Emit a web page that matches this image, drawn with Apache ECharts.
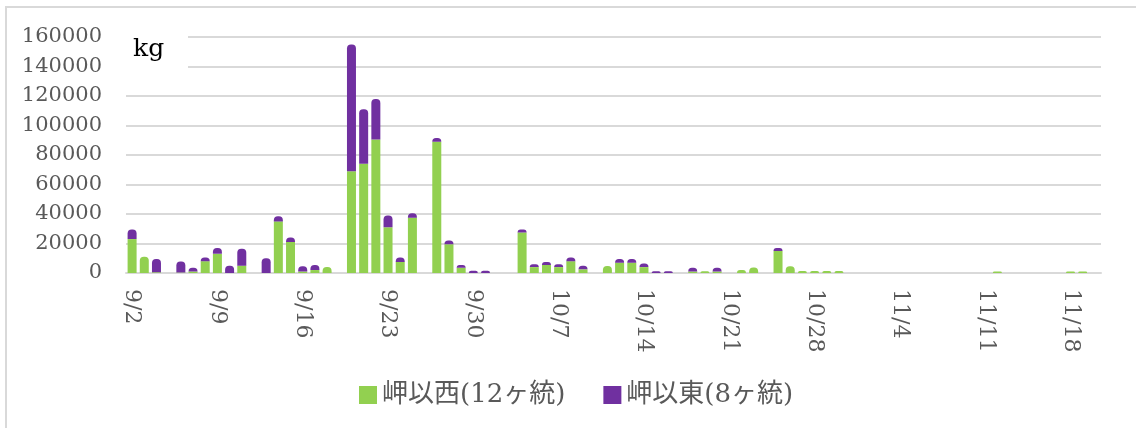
<!DOCTYPE html>
<html>
<head>
    <meta charset="utf-8" />
    <title>漁獲量</title>
    <script src="https://cdn.jsdelivr.net/npm/echarts@6/dist/echarts.min.js"></script>
    <style type="text/css">
        html, body { margin: 0; padding: 0; background: #fff; }
        #chart { width: 1136px; height: 428px; }
    </style>
</head>
<body>
    <div id="chart"></div>
    <script>
        // 日付（9/2 ～ 11/20）
        var dates = [
            '9/2', '9/3', '9/4', '9/5', '9/6', '9/7', '9/8', '9/9', '9/10', '9/11',
            '9/12', '9/13', '9/14', '9/15', '9/16', '9/17', '9/18', '9/19', '9/20', '9/21',
            '9/22', '9/23', '9/24', '9/25', '9/26', '9/27', '9/28', '9/29', '9/30', '10/1',
            '10/2', '10/3', '10/4', '10/5', '10/6', '10/7', '10/8', '10/9', '10/10', '10/11',
            '10/12', '10/13', '10/14', '10/15', '10/16', '10/17', '10/18', '10/19', '10/20', '10/21',
            '10/22', '10/23', '10/24', '10/25', '10/26', '10/27', '10/28', '10/29', '10/30', '10/31',
            '11/1', '11/2', '11/3', '11/4', '11/5', '11/6', '11/7', '11/8', '11/9', '11/10',
            '11/11', '11/12', '11/13', '11/14', '11/15', '11/16', '11/17', '11/18', '11/19', '11/20'
        ];

        // 岬以西(12ヶ統)
        var westValues = [
            23000, 11000, 500, 0, 300, 1000, 8000, 13000, 0, 5000,
            0, 0, 35000, 21000, 1000, 2000, 4000, 0, 69000, 74000,
            90500, 31000, 7500, 37500, 0, 89000, 19500, 3500, 0, 0,
            0, 0, 27500, 4000, 5500, 4000, 8000, 2500, 0, 4800,
            7000, 7000, 4000, 0, 0, 0, 1000, 1200, 1000, 0,
            2000, 3800, 0, 15000, 4500, 1300, 1300, 1300, 1300, 0,
            0, 0, 0, 0, 0, 0, 0, 0, 0, 0,
            0, 1000, 0, 0, 0, 0, 0, 1000, 1000, 0
        ];

        // 岬以東(8ヶ統)
        var eastValues = [
            6500, 0, 9000, 0, 7500, 2500, 2500, 4000, 5000, 11500,
            0, 10000, 3500, 3000, 3500, 3500, 0, 0, 86000, 37000,
            27500, 8000, 3000, 3000, 0, 2500, 2500, 2000, 1500, 1500,
            0, 0, 2000, 2000, 2000, 2000, 2500, 2500, 0, 0,
            2500, 2500, 2500, 1200, 1200, 0, 2500, 0, 2500, 0,
            0, 0, 0, 2000, 0, 0, 0, 0, 0, 0,
            0, 0, 0, 0, 0, 0, 0, 0, 0, 0,
            0, 0, 0, 0, 0, 0, 0, 0, 0, 0
        ];

        var yTicks = { min: 0, max: 160000, interval: 20000 };

        var seriesNames = ['岬以西(12ヶ統)', '岬以東(8ヶ統)'];

        var serifFont = '"DejaVu Serif", "Liberation Serif", "Noto Sans CJK JP", serif';

        // 東がない日は西の棒の上を丸める
        var westData = westValues.map(function (v, i) {
            if (eastValues[i] === 0) {
                return { value: v, itemStyle: { borderRadius: [4, 4, 0, 0] } };
            }
            return v;
        });

        var myChart = echarts.init(document.getElementById('chart'));

        var option = {
            animation: false,
            backgroundColor: '#fff',
            grid: {
                left: 126,
                right: 35,
                top: 37,
                bottom: 155
            },
            legend: {
                data: seriesNames,
                left: 354,
                top: 377,
                icon: 'rect',
                itemWidth: 18,
                itemHeight: 18,
                itemGap: 38,
                textStyle: {
                    fontFamily: serifFont,
                    fontSize: 26,
                    color: '#595959'
                }
            },
            xAxis: {
                type: 'category',
                data: dates,
                boundaryGap: true,
                axisTick: { show: false },
                axisLine: { lineStyle: { color: '#d9d9d9', width: 2 } },
                axisLabel: {
                    interval: 6,
                    rotate: -90,
                    margin: 16,
                    fontFamily: serifFont,
                    fontSize: 22,
                    color: '#595959'
                }
            },
            yAxis: {
                type: 'value',
                min: yTicks.min,
                max: yTicks.max,
                interval: yTicks.interval,
                axisLine: { show: false },
                axisTick: { show: false },
                splitLine: { lineStyle: { color: '#d9d9d9', width: 2 } },
                axisLabel: {
                    margin: 24,
                    fontFamily: serifFont,
                    fontSize: 21,
                    color: '#595959',
                    formatter: function (v) { return String(v); }
                }
            },
            series: [
                {
                    name: seriesNames[0],
                    type: 'bar',
                    stack: 'total',
                    data: westData,
                    barWidth: 9,
                    itemStyle: { color: '#92D050' }
                },
                {
                    name: seriesNames[1],
                    type: 'bar',
                    stack: 'total',
                    data: eastValues,
                    barWidth: 9,
                    itemStyle: { color: '#7030A0', borderRadius: [4, 4, 0, 0] }
                }
            ],
            graphic: [
                {
                    type: 'rect',
                    z: -10,
                    shape: { x: 6, y: 7, width: 1200, height: 500 },
                    style: { fill: 'none', stroke: '#d9d9d9', lineWidth: 2 }
                },
                {
                    type: 'rect',
                    z: 10,
                    shape: { x: 124, y: 28, width: 64, height: 46 },
                    style: { fill: '#fff' }
                },
                {
                    type: 'text',
                    z: 11,
                    left: 133,
                    top: 37,
                    style: {
                        text: 'kg',
                        font: '25px "DejaVu Serif", serif',
                        fill: '#000'
                    }
                }
            ]
        };

        myChart.setOption(option);
    </script>
</body>
</html>
